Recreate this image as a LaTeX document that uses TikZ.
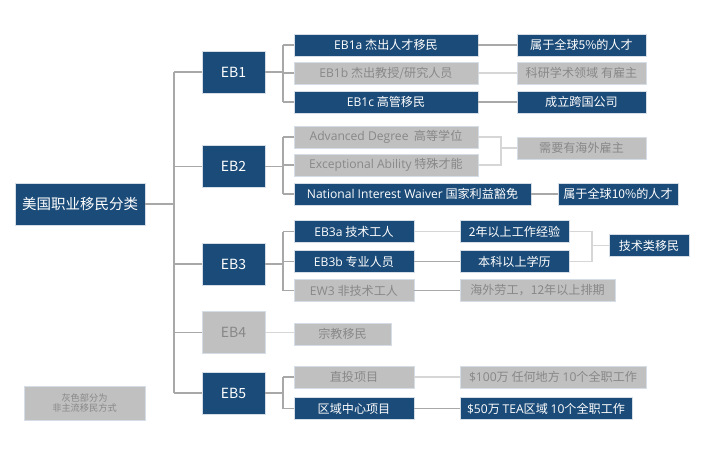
\documentclass[tikz,border=0pt]{standalone}
\usepackage{fontspec}
\setmainfont{Noto Sans CJK SC}
\newfontfamily\latf{Open Sans}
\definecolor{navy}{HTML}{1B4B78}
\definecolor{boxgray}{HTML}{C0C0C0}
\definecolor{txtgray}{HTML}{888888}
\definecolor{ldark}{HTML}{A8A8A8}
\definecolor{llight}{HTML}{D6D6D6}
\definecolor{edge}{HTML}{D5DDE6}
\tikzset{
  bx/.style={inner sep=0pt, outer sep=0pt, draw=edge, line width=0.5pt, align=center},
  bluebox/.style={bx, fill=navy, text=white},
  graybox/.style={bx, fill=boxgray, text=txtgray},
  big/.style={minimum width=63pt, minimum height=42pt, font=\fontsize{14}{16}\selectfont},
  mid/.style={minimum height=22pt, font=\fontsize{12.1}{13}\selectfont},
  ln/.style={draw=ldark, line width=1.1pt},
  lnl/.style={draw=llight, line width=1.1pt}
}
\begin{document}
\begin{tikzpicture}[x=1pt,y=-1pt]
\useasboundingbox (0,0) rectangle (706,450);
% root
\node[bluebox, minimum width=130pt, minimum height=42pt, font=\fontsize{14.5}{17}\selectfont] (root) at (80,204) {美国职业移民分类};
% level 1
\node[bluebox, big] (EB1) at (233.5,72) {EB1};
\node[bluebox, big] (EB2) at (233.5,166.5) {EB2};
\node[bluebox, big] (EB3) at (233.5,264) {EB3};
\node[graybox, big] (EB4) at (233.5,332.5) {EB4};
\node[bluebox, big] (EB5) at (233.5,393) {EB5};
% level 2
\node[bluebox, mid, minimum width=184pt] (EB1a) at (386,45) {{\latf EB1a} 杰出人才移民};
\node[graybox, mid, minimum width=184pt] (EB1b) at (386,73) {{\latf EB1b} 杰出教授/研究人员};
\node[bluebox, mid, minimum width=184pt] (EB1c) at (386,102) {{\latf EB1c} 高管移民};
\node[graybox, mid, minimum width=184pt] (AD) at (386,137) {{\latf Advanced Degree}\ \ 高等学位};
\node[graybox, mid, minimum width=184pt] (EA) at (386,165) {{\latf Exceptional Ability} 特殊才能};
\node[bluebox, mid, minimum width=237pt] (NIW) at (412.5,194) {{\latf National Interest Waiver} 国家利益豁免};
\node[bluebox, mid, minimum width=120pt] (EB3a) at (354,231.5) {{\latf EB3a} 技术工人};
\node[bluebox, mid, minimum width=120pt] (EB3b) at (354,261.5) {{\latf EB3b} 专业人员};
\node[graybox, mid, minimum width=120pt] (EW3) at (354,290.5) {{\latf EW3} 非技术工人};
\node[graybox, mid, minimum width=97pt] (EB4a) at (342.5,334) {宗教移民};
\node[graybox, mid, minimum width=120pt] (EB5a) at (354,377) {直投项目};
\node[bluebox, mid, minimum width=120pt] (EB5b) at (354,408.5) {区域中心项目};
% level 3
\node[bluebox, mid, minimum width=129pt] (R1a) at (581.5,45) {属于全球5\%的人才};
\node[graybox, mid, minimum width=129pt] (R1b) at (581.5,73) {科研学术领域\ 有雇主};
\node[bluebox, mid, minimum width=129pt] (R1c) at (581.5,102) {成立跨国公司};
\node[graybox, mid, minimum width=129pt] (R2) at (581.5,148) {需要有海外雇主};
\node[bluebox, mid, minimum width=120pt] (R10) at (618,194) {属于全球10\%的人才};
\node[bluebox, mid, minimum width=109pt] (R3a) at (514.5,231.5) {2年以上工作经验};
\node[bluebox, mid, minimum width=109pt] (R3b) at (514.5,261.5) {本科以上学历};
\node[graybox, mid, minimum width=155pt] (R3c) at (537.5,290.5) {海外劳工，12年以上排期};
\node[bluebox, mid, minimum width=80pt] (Tech) at (649,245.5) {技术类移民};
\node[graybox, mid, minimum width=186pt] (R5a) at (553,377) {{\latf\$100}万\ 任何地方\ {\latf 10}个全职工作};
\node[bluebox, mid, minimum width=172pt] (R5b) at (546,408.5) {{\latf\$50}万\ {\latf TEA}区域 {\latf 10}个全职工作};
% legend
\node[graybox, minimum width=121pt, minimum height=34pt, font=\fontsize{9.2}{10.5}\selectfont] (legend) at (84.5,403) {灰色部分为\\非主流移民方式};
% trunk connectors
\coordinate (tx) at (174,0);
\draw[ln] (root.east) -- (root.east -| tx);
\draw[ln] (EB1.west -| tx) -- (EB5.west -| tx);
\foreach \n in {EB1,EB2,EB3,EB4,EB5} \draw[ln] (\n.west) -- (\n.west -| tx);
% branch connectors
\coordinate (bx) at (283,0);
\draw[ln] (EB1.east) -- (EB1.east -| bx);
\draw[ln] (EB1a.west -| bx) -- (EB1c.west -| bx);
\foreach \n in {EB1a,EB1b,EB1c} \draw[ln] (\n.west) -- (\n.west -| bx);
\draw[ln] (EB2.east) -- (EB2.east -| bx);
\draw[ln] (AD.west -| bx) -- (NIW.west -| bx);
\foreach \n in {AD,EA,NIW} \draw[ln] (\n.west) -- (\n.west -| bx);
\draw[ln] (EB3.east) -- (EB3.east -| bx);
\draw[ln] (EB3a.west -| bx) -- (EW3.west -| bx);
\foreach \n in {EB3a,EB3b,EW3} \draw[ln] (\n.west) -- (\n.west -| bx);
\draw[lnl] (EB4.east) -- (EB4.east -| EB4a.west);
\draw[ln] (EB5.east) -- (EB5.east -| bx);
\draw[ln] (EB5a.west -| bx) -- (EB5b.west -| bx);
\foreach \n in {EB5a,EB5b} \draw[ln] (\n.west) -- (\n.west -| bx);
% level 2 to level 3
\draw[ln] (EB1a.east) -- (R1a.west);
\draw[lnl] (EB1b.east) -- (R1b.west);
\draw[ln] (EB1c.east) -- (R1c.west);
\coordinate (cx) at (501,0);
\draw[lnl] (AD.east) -- (AD.east -| cx) -- (EA.east -| cx) -- (EA.east);
\draw[lnl] (R2.west -| cx) -- (R2.west);
\draw[ln] (NIW.east) -- (R10.west);
\draw[lnl] (EB3a.east) -- (R3a.west);
\draw[ln] (EB3b.east) -- (R3b.west);
\draw[ln] (EW3.east) -- (R3c.west);
\coordinate (dx) at (592,0);
\draw[lnl] (R3a.east) -- (R3a.east -| dx) -- (R3b.east -| dx) -- (R3b.east);
\draw[lnl] (Tech.west -| dx) -- (Tech.west);
\draw[lnl] (EB5a.east) -- (R5a.west);
\draw[ln] (EB5b.east) -- (R5b.west);
\end{tikzpicture}
\end{document}
